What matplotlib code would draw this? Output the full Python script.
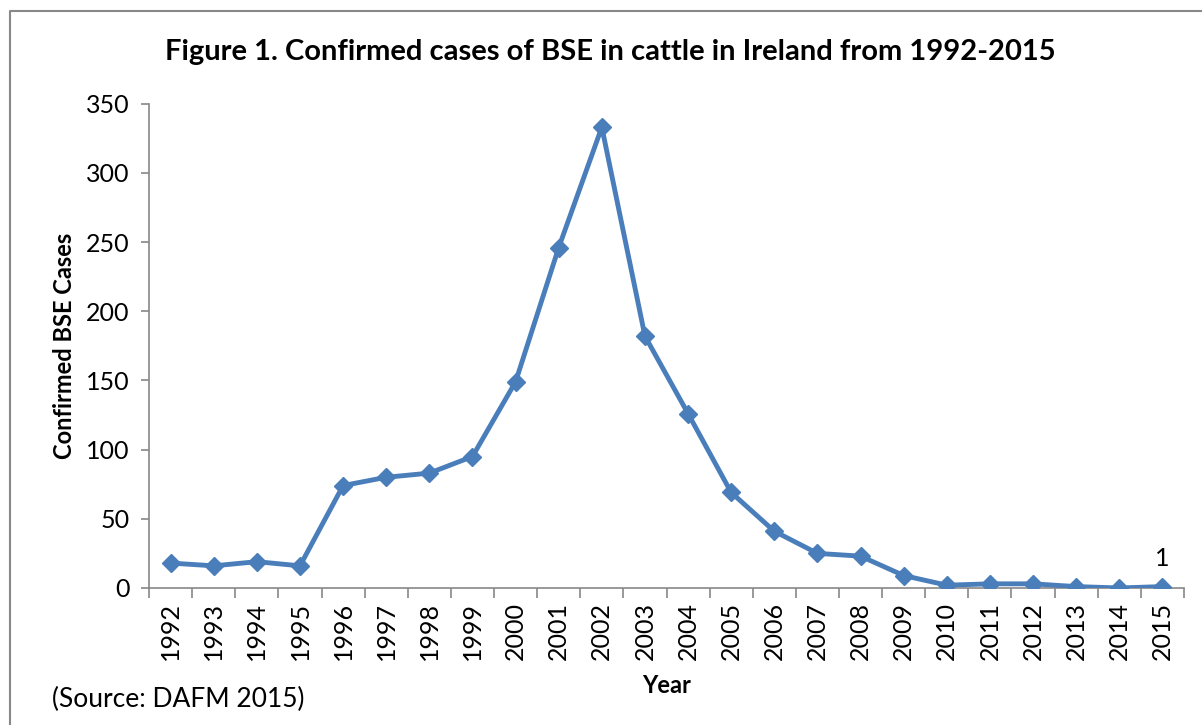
import matplotlib.pyplot as plt
from matplotlib.lines import Line2D

years = ['1992', '1993', '1994', '1995', '1996', '1997', '1998', '1999',
         '2000', '2001', '2002', '2003', '2004', '2005', '2006', '2007',
         '2008', '2009', '2010', '2011', '2012', '2013', '2014', '2015']
cases = [18, 16, 19, 16, 74, 80, 83, 95, 149, 246, 333, 182, 126, 69,
         41, 25, 23, 9, 2, 3, 3, 1, 0, 1]
y_ticks = [0, 50, 100, 150, 200, 250, 300, 350]

plt.rcParams['font.family'] = ['Lato', 'DejaVu Sans']

fig = plt.figure(figsize=(12.02, 7.25), dpi=100)
ax = fig.add_axes([0.124, 0.189, 0.861, 0.668])

x = range(len(years))
ax.plot(x, cases, color='#4A7EBB', lw=3.5, marker='D', ms=9.5, zorder=3)
ax.annotate(str(cases[-1]), (x[-1], cases[-1]), xytext=(0, 12),
            textcoords='offset points', ha='center', va='bottom', fontsize=18)

ax.set_xlim(-0.5, len(years) - 0.5)
ax.set_ylim(0, 350)
ax.set_yticks(y_ticks)
ax.set_xticks(x)
ax.set_xticklabels(years, rotation=90)
ax.set_xticks([i - 0.5 for i in range(len(years) + 1)], minor=True)
ax.tick_params(axis='x', which='major', length=0, pad=10, labelsize=18)
ax.tick_params(axis='x', which='minor', length=7, color='#888888', width=1.2)
ax.tick_params(axis='y', length=6, color='#888888', width=1.2, labelsize=18, pad=8)

for s in ['top', 'right']:
    ax.spines[s].set_visible(False)
for s in ['left', 'bottom']:
    ax.spines[s].set_color('#888888')
    ax.spines[s].set_linewidth(1.2)

ax.set_ylabel('Confirmed BSE Cases', fontsize=17, fontweight='bold', labelpad=7)
ax.set_xlabel('Year', fontsize=17, fontweight='bold', labelpad=10)
fig.text(0.508, 0.928, 'Figure 1. Confirmed cases of BSE in cattle in Ireland from 1992-2015',
         ha='center', va='center', fontsize=21, fontweight='bold')
fig.text(0.043, 0.035, '(Source: DAFM 2015)', ha='left', va='center', fontsize=19)

# chart frame
fig.add_artist(Line2D([0.0085, 0.0085, 1.0], [0.0, 0.985, 0.985],
                      transform=fig.transFigure, color='#888888', lw=1.5))

fig.savefig('out.png', dpi=100)
